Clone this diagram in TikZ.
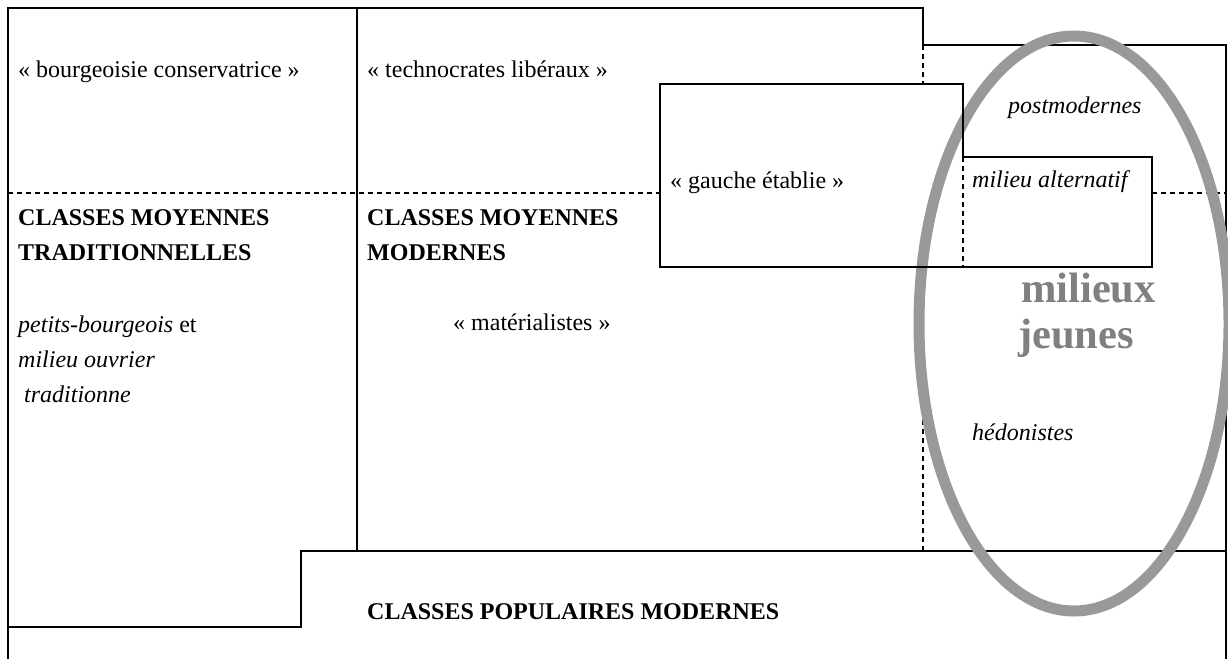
\documentclass[tikz,border=0pt]{standalone}
\usepackage{fontspec}
\setmainfont{Liberation Serif}
\definecolor{ellgray}{RGB}{153,153,153}
\definecolor{txtgray}{RGB}{128,128,128}
\tikzset{
  frame/.style={line width=2pt, line join=miter},
  dline/.style={line width=1.6pt, dash pattern=on 5pt off 4pt},
  lbl/.style={anchor=base west, inner sep=0pt, font=\fontsize{24}{28}\selectfont},
  ital/.style={lbl, font=\fontsize{24}{28}\selectfont\itshape},
  boldlbl/.style={lbl, font=\fontsize{24}{28}\selectfont\bfseries},
  big/.style={anchor=base west, inner sep=0pt, text=txtgray, font=\fontsize{42.5}{46}\selectfont\bfseries},
  ring/.style={draw=ellgray, line width=11pt}
}
\begin{document}
\begin{tikzpicture}[x=1pt,y=-1pt]
\useasboundingbox (0,0) rectangle (1228,659);
% outer frame
\draw[frame] (8,659) -- (8,8) -- (923,8) -- (923,45) -- (1226,45) -- (1226,659);
\draw[frame] (357,8) -- (357,551);
\draw[frame] (8,627) -- (301,627) -- (301,551) -- (1226,551);
% dashed lines
\draw[dline] (8,193) -- (660,193);
\draw[dline] (1152,193) -- (1226,193);
\draw[dline] (923,45) -- (923,84);
\draw[dline] (923,267) -- (923,551);
\draw[dline] (963,157) -- (963,267);
% ellipse
\path[ring] (1074,323.5) ellipse [x radius=155pt, y radius=287.5pt];
% gauche etablie / milieu alternatif box
\draw[frame] (660,84) -- (963,84) -- (963,157) -- (1152,157) -- (1152,267) -- (660,267) -- cycle;
% texts
\node[lbl] (bourg) at (18,77) {« bourgeoisie conservatrice »};
\node[lbl] (techno) at (367,77) {« technocrates libéraux »};
\node[lbl] (gauche) at (670,188) {« gauche établie »};
\node[ital] (postm) at (1008,113) {postmodernes};
\node[ital] (alt) at (972,187) {milieu alternatif};
\node[boldlbl] (cmt1) at (18,225) {CLASSES MOYENNES};
\node[boldlbl] (cmt2) at (18,260) {TRADITIONNELLES};
\node[boldlbl] (cmm1) at (367,225) {CLASSES MOYENNES};
\node[boldlbl] (cmm2) at (367,260) {MODERNES};
\node[lbl] (petits) at (18,332) {\textit{petits-bourgeois} et};
\node[ital] (ouvrier) at (18,367) {milieu ouvrier};
\node[ital] (tradi) at (24,402) {traditionne};
\node[lbl] (mater) at (453,330) {« matérialistes »};
\node[big] (milieux) at (1021,302) {milieux};
\node[big] (jeunes) at (1018,348) {jeunes};
\node[ital] (hedon) at (972,440) {hédonistes};
\node[boldlbl] (cpm) at (367,619) {CLASSES POPULAIRES MODERNES};
\end{tikzpicture}
\end{document}
